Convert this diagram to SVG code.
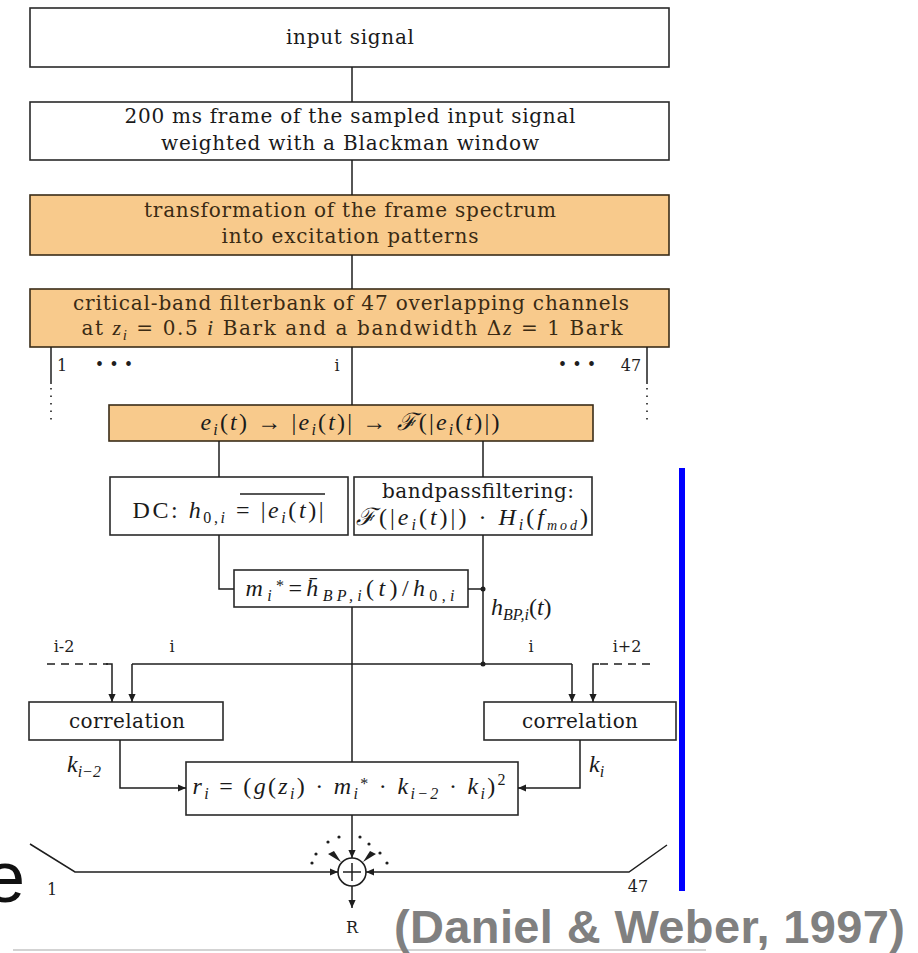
<svg xmlns="http://www.w3.org/2000/svg" width="918" height="953" viewBox="0 0 918 953">
<style>
.box{fill:#ffffff;stroke:#2a2a2a;stroke-width:1.6}
.obox{fill:#f8ca8c;stroke:#3a2c18;stroke-width:1.6}
.t{font-family:"DejaVu Serif",serif;font-size:20px;fill:#1a1a1a}
.ot{font-family:"DejaVu Serif",serif;font-size:20px;fill:#3a2a14}
.m{font-family:"Liberation Serif",serif;font-size:24px;fill:#1a1a1a}
.i{font-style:italic}
.s{font-size:16px}
.ln{fill:none;stroke:#1e1e1e;stroke-width:1.5}
.dash{fill:none;stroke:#1e1e1e;stroke-width:1.5;stroke-dasharray:8 6}
.dot{fill:none;stroke:#1e1e1e;stroke-width:1.6;stroke-dasharray:1.5 6}
.lbl{font-family:"DejaVu Serif",serif;font-size:16px;fill:#1e1e1e}
</style>
<defs>
<marker id="arr" viewBox="0 0 10 10" refX="10" refY="5" markerWidth="9" markerHeight="8" orient="auto" markerUnits="userSpaceOnUse">
<path d="M0,0.5 L10,5 L0,9.5 z" fill="#1e1e1e"/>
</marker>
</defs>

<g id="n-input">
<rect class="box" x="30" y="8" width="639" height="59"/>
<text class="t" x="350" y="44" text-anchor="middle" textLength="128">input signal</text>
</g>
<g id="n-frame">
<rect class="box" x="30" y="102" width="639" height="58"/>
<text class="t" x="350" y="123" text-anchor="middle" textLength="451">200 ms frame of the sampled input signal</text>
<text class="t" x="350" y="150" text-anchor="middle" textLength="378">weighted with a Blackman window</text>
</g>
<g id="n-transform">
<rect class="obox" x="30" y="195" width="639" height="60"/>
<text class="ot" x="350" y="217" text-anchor="middle" textLength="412">transformation of the frame spectrum</text>
<text class="ot" x="350" y="243" text-anchor="middle" textLength="257">into excitation patterns</text>
</g>
<g id="n-filterbank">
<rect class="obox" x="30" y="289" width="639" height="58"/>
<text class="ot" x="351" y="310" text-anchor="middle" textLength="556">critical-band filterbank of 47 overlapping channels</text>
<text class="ot" x="352" y="335" text-anchor="middle" textLength="541">at <tspan class="i" font-family="Liberation Serif" font-size="22">z</tspan><tspan class="i" font-family="Liberation Serif" font-size="15" dy="5">i</tspan><tspan dy="-5"> = 0.5 </tspan><tspan class="i" font-family="Liberation Serif" font-size="22">i</tspan> Bark and a bandwidth Δ<tspan class="i" font-family="Liberation Serif" font-size="22">z</tspan> = 1 Bark</text>
</g>
<g id="n-envelope">
<rect class="obox" x="109" y="405" width="484" height="36"/>
<text class="m" x="350" y="430" text-anchor="middle" fill="#3a2a14" textLength="299"><tspan class="i">e</tspan><tspan class="s i" dy="5">i</tspan><tspan dy="-5">(</tspan><tspan class="i">t</tspan><tspan>) → |</tspan><tspan class="i">e</tspan><tspan class="s i" dy="5">i</tspan><tspan dy="-5">(</tspan><tspan class="i">t</tspan><tspan>)| → </tspan><tspan class="i">ℱ</tspan><tspan>(|</tspan><tspan class="i">e</tspan><tspan class="s i" dy="5">i</tspan><tspan dy="-5">(</tspan><tspan class="i">t</tspan><tspan>)|)</tspan></text>
</g>
<g id="n-dc">
<rect class="box" x="110" y="477" width="238" height="58"/>
<text class="m" x="228" y="518" text-anchor="middle" textLength="191">DC: <tspan class="i">h</tspan><tspan class="s" dy="5">0,</tspan><tspan class="s i">i</tspan><tspan dy="-5"> = |</tspan><tspan class="i">e</tspan><tspan class="s i" dy="5">i</tspan><tspan dy="-5">(</tspan><tspan class="i">t</tspan><tspan>)|</tspan></text>
<line class="ln" x1="240" y1="494" x2="325" y2="494"/>
</g>
<g id="n-bandpass">
<rect class="box" x="354" y="477" width="238" height="58"/>
<text class="t" x="478" y="498" text-anchor="middle" textLength="192">bandpassfiltering:</text>
<text class="m" x="472" y="525" text-anchor="middle" font-size="22" textLength="232"><tspan class="i">ℱ</tspan>(|<tspan class="i">e</tspan><tspan class="s i" dy="5">i</tspan><tspan dy="-5">(</tspan><tspan class="i">t</tspan><tspan>)|) · </tspan><tspan class="i">H</tspan><tspan class="s i" dy="5">i</tspan><tspan dy="-5">(</tspan><tspan class="i">f</tspan><tspan class="i" font-size="14" dy="5">mod</tspan><tspan dy="-5">)</tspan></text>
</g>
<g id="n-modulation">
<rect class="box" x="234" y="570" width="234" height="37"/>
<text class="m" x="350" y="596" text-anchor="middle" textLength="209"><tspan class="i">m</tspan><tspan class="s i" dy="5">i</tspan><tspan class="s" dy="-10">*</tspan><tspan dy="5">=</tspan><tspan class="i">h̄</tspan><tspan class="s i" dy="5">BP,i</tspan><tspan dy="-5">(</tspan><tspan class="i">t</tspan><tspan>)/</tspan><tspan class="i">h</tspan><tspan class="s" dy="5">0,</tspan><tspan class="s i">i</tspan></text>
</g>
<g id="n-corr-left">
<rect class="box" x="29" y="702" width="194" height="38"/>
<text class="t" x="127" y="728" text-anchor="middle" textLength="116">correlation</text>
</g>
<g id="n-corr-right">
<rect class="box" x="484" y="702" width="192" height="38"/>
<text class="t" x="580" y="728" text-anchor="middle" textLength="116">correlation</text>
</g>
<g id="n-result">
<rect class="box" x="186" y="762" width="332" height="53"/>
<text class="m" x="349" y="794" text-anchor="middle" textLength="313"><tspan class="i">r</tspan><tspan class="s i" dy="5">i</tspan><tspan dy="-5"> = (</tspan><tspan class="i">g</tspan>(<tspan class="i">z</tspan><tspan class="s i" dy="5">i</tspan><tspan dy="-5">) · </tspan><tspan class="i">m</tspan><tspan class="s i" dy="5">i</tspan><tspan class="s" dy="-10">*</tspan><tspan dy="5"> · </tspan><tspan class="i">k</tspan><tspan class="s i" dy="5">i−2</tspan><tspan dy="-5"> · </tspan><tspan class="i">k</tspan><tspan class="s i" dy="5">i</tspan><tspan dy="-5">)</tspan><tspan class="s" dy="-9">2</tspan></text>
</g>
<g id="n-sum">
<circle cx="352" cy="872" r="14" fill="#fff" stroke="#1e1e1e" stroke-width="1.6"/>
<line class="ln" x1="343" y1="872" x2="361" y2="872"/>
<line class="ln" x1="352" y1="863" x2="352" y2="881"/>
</g>

<g id="connectors">
<line class="ln" x1="352" y1="67" x2="352" y2="102"/>
<line class="ln" x1="352" y1="160" x2="352" y2="195"/>
<line class="ln" x1="352" y1="255" x2="352" y2="289"/>
<line class="ln" x1="352" y1="347" x2="352" y2="405"/>
<line class="ln" x1="51" y1="347" x2="51" y2="384"/>
<line class="dot" x1="51" y1="388" x2="51" y2="420"/>
<line class="ln" x1="647" y1="347" x2="647" y2="384"/>
<line class="dot" x1="647" y1="388" x2="647" y2="420"/>
<line class="ln" x1="219" y1="441" x2="219" y2="477"/>
<line class="ln" x1="483" y1="441" x2="483" y2="477"/>
<polyline class="ln" points="219,535 219,589 234,589"/>
<line class="ln" x1="468" y1="589" x2="483" y2="589"/>
<line class="ln" x1="483" y1="535" x2="483" y2="664"/>
<circle cx="483" cy="589" r="2.5" fill="#1e1e1e"/>
<circle cx="483" cy="664" r="2.5" fill="#1e1e1e"/>
<line class="ln" x1="352" y1="607" x2="352" y2="762"/>
<line class="ln" x1="132" y1="664" x2="572" y2="664"/>
<line class="ln" x1="132" y1="664" x2="132" y2="702" marker-end="url(#arr)"/>
<line class="ln" x1="572" y1="664" x2="572" y2="702" marker-end="url(#arr)"/>
<line class="dash" x1="47" y1="664" x2="108" y2="664"/>
<polyline class="ln" points="106,664 112,664 112,702" marker-end="url(#arr)"/>
<line class="dash" x1="650" y1="664" x2="597" y2="664"/>
<polyline class="ln" points="599,664 593,664 593,702" marker-end="url(#arr)"/>
<polyline class="ln" points="120,740 120,788 186,788" marker-end="url(#arr)"/>
<polyline class="ln" points="580,740 580,788 518,788" marker-end="url(#arr)"/>
<line class="ln" x1="352" y1="815" x2="352" y2="858" marker-end="url(#arr)"/>
<polyline class="ln" points="30,844 75,872 338,872" marker-end="url(#arr)"/>
<polyline class="ln" points="667,845 629,872 366,872" marker-end="url(#arr)"/>
<line class="ln" x1="352" y1="886" x2="352" y2="908" marker-end="url(#arr)"/>
<g fill="#1e1e1e">
<circle cx="328" cy="842" r="1.6"/><circle cx="339" cy="837" r="1.6"/>
<circle cx="360" cy="837" r="1.6"/><circle cx="369" cy="844" r="1.6"/>
<circle cx="316" cy="854" r="1.6"/><circle cx="380" cy="853" r="1.6"/>
<circle cx="312" cy="863" r="1.6"/><circle cx="387" cy="863" r="1.6"/>
<path d="M341,862 L328,854 L334,851 z"/>
<path d="M363,862 L376,854 L370,851 z"/>
</g>
</g>

<g id="labels">
<text class="lbl" x="57" y="371">1</text>
<text class="lbl" x="114" y="370" text-anchor="middle">• • •</text>
<text class="lbl" x="337" y="371" text-anchor="middle">i</text>
<text class="lbl" x="577" y="370" text-anchor="middle">• • •</text>
<text class="lbl" x="631" y="371" text-anchor="middle">47</text>
<text class="m" x="491" y="615" font-size="23"><tspan class="i">h</tspan><tspan class="s i" dy="5">BP,i</tspan><tspan dy="-5">(</tspan><tspan class="i">t</tspan>)</text>
<text class="lbl" x="64" y="652" text-anchor="middle">i-2</text>
<text class="lbl" x="172" y="652" text-anchor="middle">i</text>
<text class="lbl" x="531" y="652" text-anchor="middle">i</text>
<text class="lbl" x="627" y="652" text-anchor="middle">i+2</text>
<text class="m" x="67" y="772" font-size="23"><tspan class="i">k</tspan><tspan class="s i" dy="5">i−2</tspan></text>
<text class="m" x="589" y="772" font-size="23"><tspan class="i">k</tspan><tspan class="s i" dy="5">i</tspan></text>
<text class="lbl" x="52" y="895" text-anchor="middle">1</text>
<text class="lbl" x="638" y="892" text-anchor="middle">47</text>
<text class="lbl" x="352" y="933" text-anchor="middle">R</text>
</g>

<rect x="679" y="468" width="6" height="423" fill="#0000ff"/>
<line x1="13" y1="950" x2="706" y2="950" stroke="#c4c4c4" stroke-width="1.5"/>
<text x="-15" y="902" font-family="Liberation Sans, sans-serif" font-size="72" fill="#111">e</text>
<text x="394" y="943" font-family="Liberation Sans, sans-serif" font-size="47" font-weight="bold" fill="#808080" textLength="511">(Daniel &amp; Weber, 1997)</text>
</svg>
